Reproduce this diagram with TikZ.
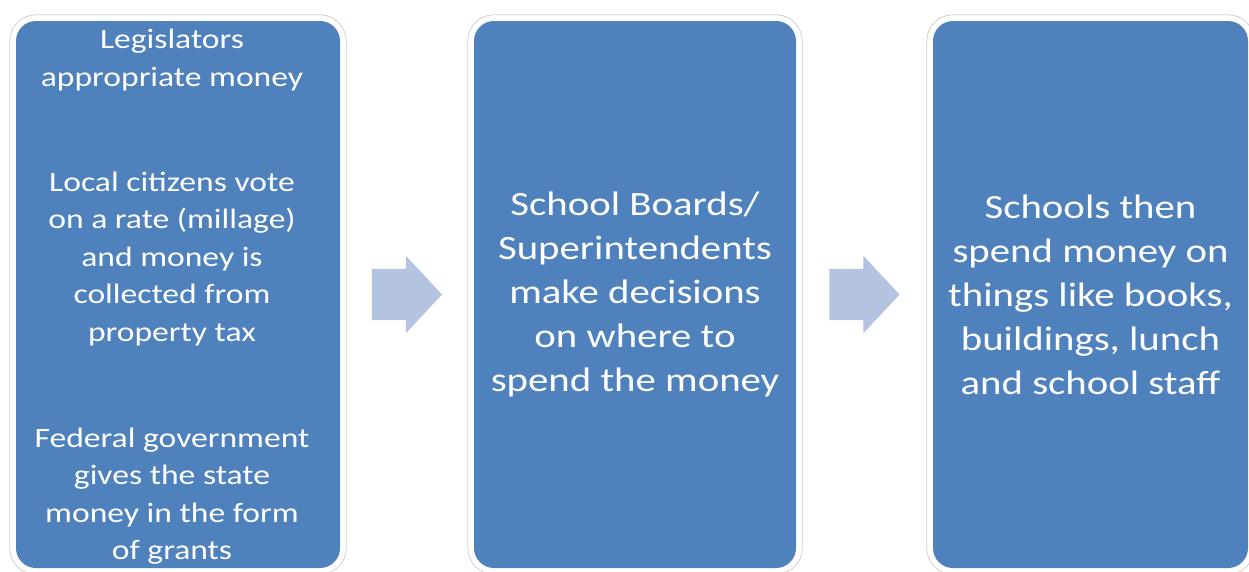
\documentclass[tikz,border=0pt]{standalone}
\usepackage{fontspec}
\setmainfont{Carlito}[FakeStretch=1.2]
\usetikzlibrary{shapes.arrows,backgrounds,positioning}
\definecolor{boxblue}{RGB}{79,129,189}
\definecolor{arrowblue}{RGB}{180,196,224}
\definecolor{rimgray}{RGB}{208,208,208}
\tikzset{
  stage/.style={fill=boxblue,rounded corners=20pt,minimum height=547pt,inner sep=0pt,
    text=white,align=center,font=\fontsize{34}{44}\selectfont},
  note/.style={text=white,align=center,inner sep=0pt,font=\fontsize{28}{37.5}\selectfont},
  rim/.style={fill=white,draw=rimgray,line width=0.8pt,rounded corners=26pt},
  flowarrow/.style={single arrow,fill=arrowblue,inner xsep=0pt,inner ysep=25.5pt,xshift=-12pt,
    minimum height=70pt,single arrow head extend=13pt,single arrow tip angle=94}
}
\begin{document}
\begin{tikzpicture}[x=1pt,y=-1pt]
\useasboundingbox (0,0) rectangle (1249,571);
% the three stages
\node[stage,minimum width=324pt] (source) at (178,294.5) {};
\node[stage,minimum width=322pt] (boards) at (635,294.5)
  {School Boards/\\Superintendents\\make decisions\\on where to\\spend the money};
\node[stage,minimum width=315pt] (schools) at (1090.5,294.5)
  {Schools then\\spend money on\\things like books,\\buildings, lunch\\and school staff};
% where the money comes from
\node[note] (legis) at (172,60) {Legislators\\appropriate money};
\node[note] (citizens) at (172,259) {Local citizens vote\\on a rate (millage)\\and money is\\collected from\\property tax};
\node[note] (federal) at (172,496) {Federal government\\gives the state\\money in the form\\of grants};
\begin{scope}[on background layer]
  \foreach \n in {source,boards,schools}
    \draw[rim] ([shift={(-6,-6)}]\n.north west) rectangle ([shift={(6,6)}]\n.south east);
\end{scope}
\path (source) -- node[flowarrow] (step1) {} (boards);
\path (boards) -- node[flowarrow] (step2) {} (schools);
\end{tikzpicture}
\end{document}
